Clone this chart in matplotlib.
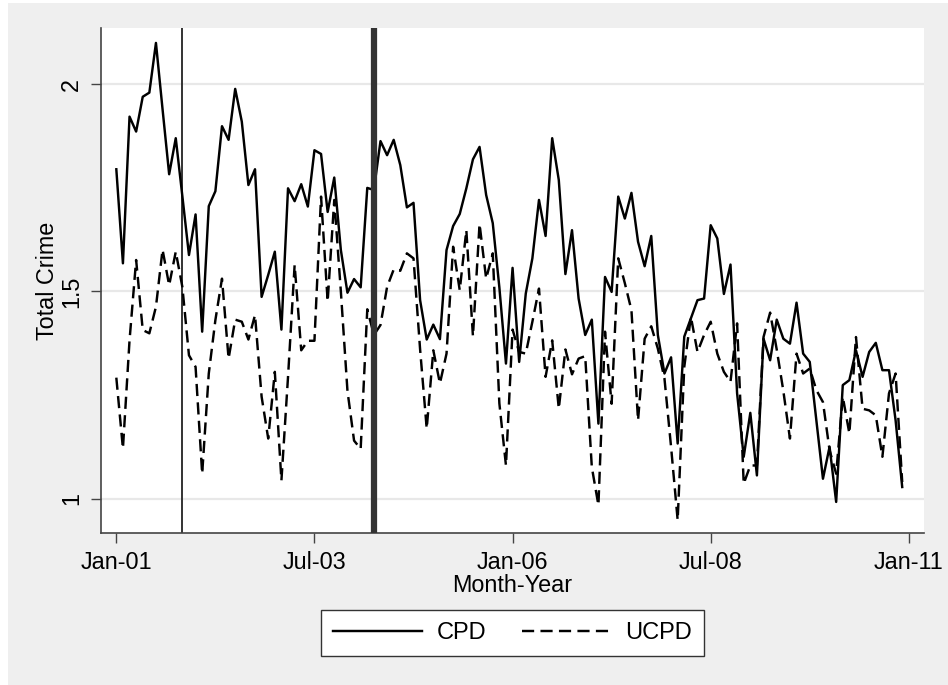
import matplotlib
matplotlib.use("Agg")
import matplotlib.pyplot as plt
from matplotlib.patches import Rectangle
import numpy as np

plt.rcParams['font.family'] = ['Liberation Sans', 'DejaVu Sans']

# Monthly series, Jan-2001 .. Dec-2010 (120 months)
cpd = [1.795, 1.568, 1.922, 1.886, 1.970, 1.980, 2.100, 1.940, 1.783, 1.870,
       1.730, 1.588, 1.686, 1.403, 1.706, 1.742, 1.899, 1.866, 1.989, 1.910,
       1.757, 1.795, 1.487, 1.540, 1.596, 1.408, 1.749, 1.718, 1.759, 1.705,
       1.841, 1.832, 1.692, 1.775, 1.600, 1.497, 1.530, 1.510, 1.750, 1.745,
       1.863, 1.829, 1.866, 1.805, 1.703, 1.714, 1.479, 1.384, 1.420, 1.385,
       1.600, 1.658, 1.687, 1.749, 1.819, 1.849, 1.733, 1.665, 1.510, 1.326,
       1.557, 1.330, 1.495, 1.580, 1.721, 1.634, 1.870, 1.769, 1.542, 1.648,
       1.483, 1.395, 1.432, 1.181, 1.535, 1.499, 1.729, 1.676, 1.738, 1.620,
       1.561, 1.634, 1.395, 1.302, 1.341, 1.133, 1.391, 1.435, 1.479, 1.483,
       1.660, 1.628, 1.494, 1.565, 1.254, 1.101, 1.207, 1.056, 1.386, 1.334,
       1.432, 1.386, 1.374, 1.473, 1.350, 1.330, 1.189, 1.048, 1.125, 0.992,
       1.274, 1.286, 1.358, 1.294, 1.354, 1.376, 1.310, 1.310, 1.189, 1.028]

ucpd = [1.292, 1.121, 1.382, 1.576, 1.407, 1.399, 1.463, 1.601, 1.515, 1.596,
        1.511, 1.346, 1.318, 1.060, 1.302, 1.431, 1.531, 1.338, 1.432, 1.427,
        1.384, 1.443, 1.246, 1.145, 1.306, 1.044, 1.294, 1.564, 1.358, 1.381,
        1.381, 1.729, 1.476, 1.721, 1.500, 1.260, 1.140, 1.120, 1.457, 1.395,
        1.419, 1.511, 1.553, 1.550, 1.592, 1.580, 1.360, 1.169, 1.358, 1.278,
        1.350, 1.608, 1.503, 1.648, 1.392, 1.663, 1.531, 1.592, 1.230, 1.080,
        1.408, 1.354, 1.350, 1.427, 1.507, 1.294, 1.382, 1.217, 1.360, 1.300,
        1.338, 1.344, 1.076, 0.984, 1.403, 1.229, 1.580, 1.520, 1.455, 1.189,
        1.386, 1.416, 1.362, 1.290, 1.125, 0.948, 1.318, 1.439, 1.354, 1.395,
        1.427, 1.350, 1.306, 1.282, 1.423, 1.036, 1.080, 1.080, 1.390, 1.449,
        1.360, 1.260, 1.145, 1.350, 1.302, 1.314, 1.262, 1.233, 1.117, 1.060,
        1.246, 1.157, 1.390, 1.217, 1.213, 1.201, 1.101, 1.254, 1.302, 1.040]

tick_pos = [0, 30, 60, 90, 120]
tick_labels = ["Jan-01", "Jul-03", "Jan-06", "Jul-08", "Jan-11"]
y_ticks = [1, 1.5, 2]
y_tick_labels = ["1", "1.5", "2"]
event_thin = 10
event_thick = 39

months = np.arange(len(cpd))

W, H = 948, 685
fig = plt.figure(figsize=(W / 100, H / 100), dpi=100, facecolor='white')
fig.patches.append(Rectangle((8 / W, 0), 1 - 8 / W, (H - 3) / H,
                             transform=fig.transFigure, facecolor='#efefef',
                             edgecolor='none', zorder=-10))

ax = fig.add_axes([101 / W, (H - 533) / H, (924 - 101) / W, (533 - 28) / H])
ax.set_zorder(1)
ax.set_facecolor('white')

for y in y_ticks:
    ax.axhline(y, color='#e8e8e8', lw=1.6, zorder=1)

ax.axvline(event_thin, color='#333333', lw=1.4, zorder=2)
ax.axvline(event_thick, color='#333333', lw=4.5, zorder=4)

ax.plot(months, cpd, color='black', lw=1.75, zorder=3, label='CPD')
ax.plot(months, ucpd, color='black', lw=1.75, linestyle=(0, (5.0, 2.6)),
        zorder=3, label='UCPD')

ax.set_xlim(-2.32, 122.3)
ax.set_ylim(0.917, 2.136)

ax.set_xticks(tick_pos)
ax.set_xticklabels(tick_labels)
ax.set_yticks(y_ticks)
ax.set_yticklabels(y_tick_labels, rotation=90, va='center')

for s in ['top', 'right']:
    ax.spines[s].set_visible(False)
for s in ['left', 'bottom']:
    ax.spines[s].set_color('#444444')
    ax.spines[s].set_linewidth(1.2)

ax.tick_params(axis='both', length=7, width=1.0, color='#444444',
               labelsize=16.8, labelcolor='black')
ax.tick_params(axis='y', pad=6)
ax.tick_params(axis='x', pad=6)

ax.set_xlabel('Month-Year', fontsize=16.8, labelpad=0)
ax.set_ylabel('Total Crime', fontsize=16.8, labelpad=1)

leg = fig.legend(loc='center', bbox_to_anchor=((321 + 704) / 2 / W, 1 - 633 / H),
                 ncol=2, frameon=True, fancybox=False, fontsize=17,
                 handlelength=3.8, columnspacing=1.5, handletextpad=0.6,
                 borderpad=0.5)
leg.set_zorder(5)
leg.get_frame().set_edgecolor('#333333')
leg.get_frame().set_linewidth(1.0)
leg.get_frame().set_facecolor('white')
leg.get_frame().set_alpha(1)

fig.savefig('out.png', dpi=100, facecolor=fig.get_facecolor())
